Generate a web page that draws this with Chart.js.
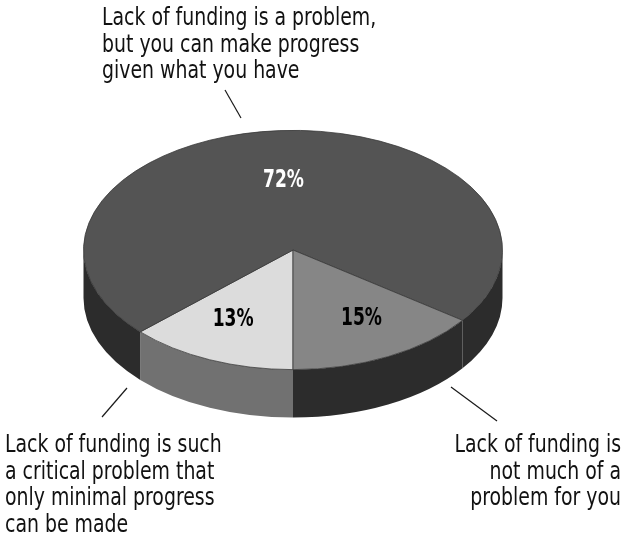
<!DOCTYPE html>
<html>
<head>
<meta charset="utf-8">
<script src="https://cdn.jsdelivr.net/npm/chart.js@4"></script>
<style>
  body { margin: 0; background: #fff; }
  canvas { display: block; }
</style>
</head>
<body>
<canvas id="fundingChart" width="624" height="534"></canvas>
<script>
// Survey answers, in drawing order starting from six o'clock
const answers = ['Critical problem', 'A problem, but progress possible', 'Not much of a problem'];
const shares = [13, 72, 15];

// Callout texts, one array per answer
const criticalText = ['Lack of funding is such', 'a critical problem that', 'only minimal progress', 'can be made'];
const problemText = ['Lack of funding is a problem,', 'but you can make progress', 'given what you have'];
const minorText = ['Lack of funding is', 'not much of a', 'problem for you'];

// Styling
const topColors = ['#dcdcdc', '#545454', '#868686'];
const sideColors = ['#717171', '#2c2c2c', '#2c2c2c'];
const labelColors = ['#000', '#fff', '#000'];
const squash = 0.571;   // vertical tilt of the disc
const depth = 48;       // thickness of the disc in px
const FONT = '"DejaVu Sans Condensed", "Liberation Sans Narrow", sans-serif';
const NARROW = 0.875;   // extra horizontal squeeze for the condensed look

// parts of an arc that face the viewer (lower half of the ellipse)
function frontParts(s, e) {
  const parts = [];
  for (let n = -1; n <= 2; n++) {
    const a0 = Math.max(s, 2 * Math.PI * n);
    const a1 = Math.min(e, 2 * Math.PI * n + Math.PI);
    if (a1 > a0) parts.push([a0, a1]);
  }
  return parts;
}

// text drawn narrower than the font's own width
function narrowText(ctx, text, x, y, sx) {
  ctx.save();
  ctx.translate(x, y);
  ctx.scale(sx, 1);
  ctx.fillText(text, 0, 0);
  ctx.restore();
}

const tiltPlugin = {
  id: 'tilt',
  beforeDatasetsDraw(chart) {
    const ctx = chart.ctx;
    const arcs = chart.getDatasetMeta(0).data;
    const { x, y, outerRadius } = arcs[0].getProps(['x', 'y', 'outerRadius'], true);
    const ry = outerRadius * squash;

    // side walls first, the tops are painted over them
    arcs.forEach((arc, i) => {
      const { startAngle, endAngle } = arc.getProps(['startAngle', 'endAngle'], true);
      frontParts(startAngle, endAngle).forEach(([a0, a1]) => {
        ctx.beginPath();
        ctx.ellipse(x, y, outerRadius, ry, 0, a0, a1);
        ctx.ellipse(x, y + depth, outerRadius, ry, 0, a1, a0, true);
        ctx.closePath();
        ctx.fillStyle = sideColors[i];
        ctx.fill();
      });
    });

    // flatten the pie itself
    ctx.save();
    ctx.translate(x, y);
    ctx.scale(1, squash);
    ctx.translate(-x, -y);
  },
  afterDatasetsDraw(chart) {
    const ctx = chart.ctx;
    ctx.restore();

    // percentage labels, pushed a little outward sideways for the perspective
    const arcs = chart.getDatasetMeta(0).data;
    ctx.save();
    ctx.font = 'bold 25px ' + FONT;
    ctx.textAlign = 'center';
    ctx.textBaseline = 'middle';
    arcs.forEach((arc, i) => {
      const p = arc.getProps(['x', 'y', 'startAngle', 'endAngle', 'outerRadius'], true);
      const mid = (p.startAngle + p.endAngle) / 2;
      const lx = p.x + Math.cos(mid) * p.outerRadius * 0.72;
      const ly = p.y + 3 + Math.sin(mid) * p.outerRadius * 0.61 * squash;
      ctx.fillStyle = labelColors[i];
      narrowText(ctx, shares[i] + '%', lx, ly, 0.76);
    });
    ctx.restore();
  },
  afterDraw(chart) {
    const ctx = chart.ctx;
    ctx.save();
    ctx.strokeStyle = '#1a1a1a';
    ctx.lineWidth = 1.2;
    [[225, 90, 241, 118], [127, 388, 102, 417], [451, 387, 497, 421]].forEach(([x1, y1, x2, y2]) => {
      ctx.beginPath();
      ctx.moveTo(x1, y1);
      ctx.lineTo(x2, y2);
      ctx.stroke();
    });

    ctx.fillStyle = '#111';
    ctx.font = '24px ' + FONT;
    ctx.textBaseline = 'alphabetic';
    const lineGap = 26.7;
    ctx.textAlign = 'left';
    problemText.forEach((t, i) => narrowText(ctx, t, 102, 25 + i * lineGap, NARROW));
    criticalText.forEach((t, i) => narrowText(ctx, t, 5, 452 + i * lineGap, NARROW));
    ctx.textAlign = 'right';
    minorText.forEach((t, i) => narrowText(ctx, t, 621, 452 + i * lineGap, NARROW));
    ctx.restore();
  }
};

new Chart(document.getElementById('fundingChart'), {
  type: 'pie',
  data: {
    labels: answers,
    datasets: [{
      data: shares,
      backgroundColor: topColors,
      borderColor: '#383838',
      borderWidth: 1
    }]
  },
  options: {
    responsive: false,
    animation: false,
    events: [],
    rotation: 180,
    layout: { padding: { left: 83, right: 121, top: 40, bottom: 74 } },
    plugins: {
      legend: { display: false },
      tooltip: { enabled: false }
    }
  },
  plugins: [tiltPlugin]
});
</script>
</body>
</html>
